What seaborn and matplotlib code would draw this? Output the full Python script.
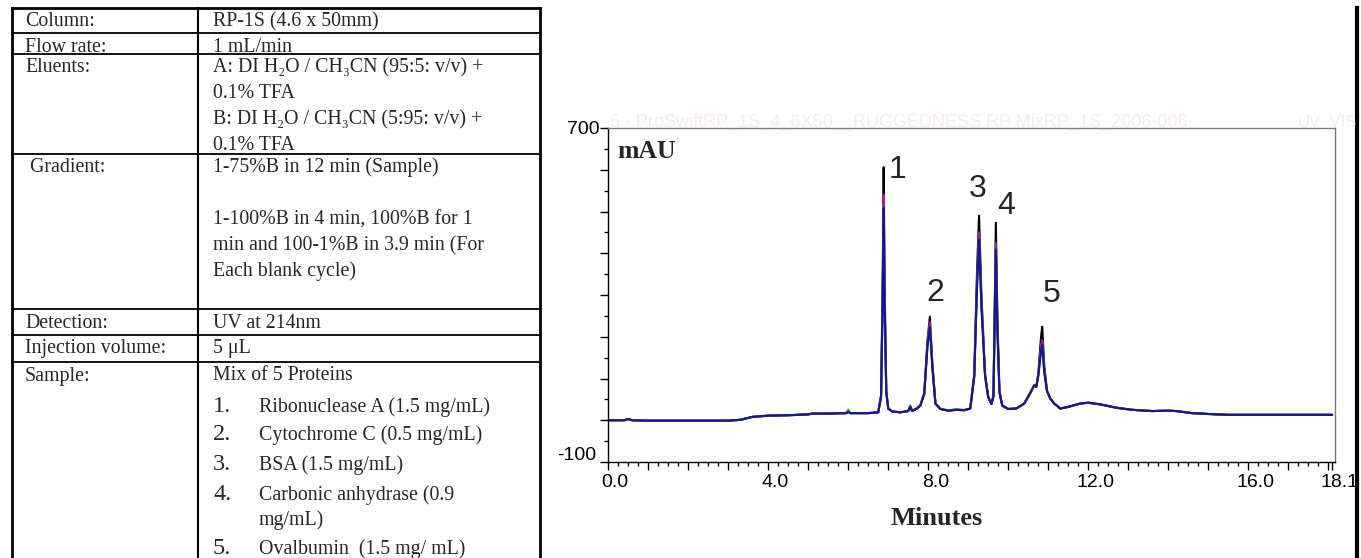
import numpy as np
import pandas as pd
import matplotlib
matplotlib.use("Agg")
import matplotlib.pyplot as plt
import matplotlib.transforms as mtrans
from matplotlib.lines import Line2D
from matplotlib.ticker import FixedLocator, FixedFormatter, MultipleLocator
import seaborn as sns

# ---------------- data ----------------
param_labels = ["Column:", "Flow rate:", "Eluents:", " Gradient:", "Detection:",
                "Injection volume:", "Sample:"]
param_values = [
    ["RP-1S (4.6 x 50mm)"],
    ["1 mL/min"],
    ["A: DI H\u2082O / CH\u2083CN (95:5: v/v) +", "0.1% TFA",
     "B: DI H\u2082O / CH\u2083CN (5:95: v/v) +", "0.1% TFA"],
    ["1-75%B in 12 min (Sample)", "", "1-100%B in 4 min, 100%B for 1",
     "min and 100-1%B in 3.9 min (For", "Each blank cycle)"],
    ["UV at 214nm"],
    ["5 \u03bcL"],
    ["Mix of 5 Proteins"],
]
protein_numbers = ["1.", "2.", "3.", "4.", "5."]
protein_names = [["Ribonuclease A (1.5 mg/mL)"], ["Cytochrome C (0.5 mg/mL)"],
                 ["BSA (1.5 mg/mL)"], ["Carbonic anhydrase (0.9", "mg/mL)"],
                 ["Ovalbumin  (1.5 mg/ mL)"]]

minutes = [0.0, 0.4, 0.5, 0.6, 1.0, 2.0, 3.0, 3.3, 3.6, 4.0, 4.5, 5.0, 5.1, 5.5, 5.95,
           6.0, 6.05, 6.5, 6.75, 6.82, 6.86, 6.885, 6.91, 6.95, 7.0, 7.1, 7.3, 7.5, 7.55,
           7.6, 7.65, 7.7, 7.8, 7.9, 7.98, 8.04, 8.1, 8.18, 8.3, 8.5, 8.7, 8.9, 9.05,
           9.15, 9.22, 9.27, 9.33, 9.42, 9.5, 9.58, 9.63, 9.66, 9.69, 9.73, 9.78, 9.85,
           10.0, 10.2, 10.4, 10.55, 10.65, 10.7, 10.75, 10.82, 10.85, 10.9, 10.97, 11.05,
           11.15, 11.3, 11.5, 11.8, 12.0, 12.3, 12.7, 13.1, 13.6, 14.0, 14.2, 14.6, 15.0,
           15.5, 16.0, 17.0, 18.1]

mau_black = [0, 0, 3, 0, -1, -1, -1, 1, 8, 11, 12, 14, 16, 16, 17,
             20, 17, 17, 19, 60, 330, 606, 320, 70, 28, 21, 19, 22, 32,
             22, 25, 27, 35, 65, 190, 248, 140, 40, 27, 23, 25, 24, 28,
             110, 360, 490, 300, 110, 55, 39, 60, 260, 473, 240, 70, 35,
             27, 28, 40, 65, 84, 80, 110, 200, 224, 130, 70, 52,
             40, 28, 32, 40, 42, 38, 30, 25, 22, 23, 22, 17, 15,
             13, 13, 13, 13]

mau_green = [0, 0, 3, 0, -1, -1, -1, 1, 8, 11, 12, 14, 16, 16, 18,
             26, 17, 17, 19, 58, 290, 520, 280, 68, 28, 21, 19, 22, 36,
             22, 26, 28, 35, 63, 180, 230, 130, 40, 28, 24, 27, 25, 28,
             105, 325, 440, 275, 108, 55, 39, 58, 235, 415, 215, 68, 35,
             27, 28, 40, 65, 84, 80, 106, 170, 186, 118, 70, 52,
             40, 28, 32, 40, 42, 38, 30, 25, 22, 23, 22, 17, 15,
             13, 13, 13, 13]

mau_magenta = [0, 0, 3, 0, -1, -1, -1, 1, 8, 11, 12, 14, 16, 16, 17,
               21, 17, 17, 19, 58, 300, 540, 290, 68, 28, 21, 19, 22, 33,
               22, 25, 27, 35, 64, 182, 235, 133, 40, 27, 23, 25, 24, 28,
               106, 335, 450, 280, 108, 55, 39, 58, 240, 425, 220, 68, 35,
               27, 28, 40, 65, 84, 80, 107, 178, 192, 120, 70, 52,
               40, 28, 32, 40, 42, 38, 30, 25, 22, 23, 22, 17, 15,
               13, 13, 13, 13]

mau_blue = [0, 0, 3, 0, -1, -1, -1, 1, 8, 11, 12, 14, 16, 16, 17,
            20, 17, 17, 19, 57, 280, 508, 270, 67, 28, 21, 19, 22, 32,
            22, 25, 27, 35, 63, 175, 224, 128, 40, 27, 23, 25, 24, 28,
            104, 320, 432, 270, 106, 55, 39, 57, 230, 408, 210, 67, 35,
            27, 28, 40, 65, 84, 80, 105, 165, 180, 115, 70, 52,
            40, 28, 32, 40, 42, 38, 30, 25, 22, 23, 22, 17, 15,
            13, 13, 13, 13]

run_names = ["run A", "run B", "run C", "run D"]
run_colors = ["#000000", "#22c46a", "#a0208c", "#16168e"]
peak_labels = ["1", "2", "3", "4", "5"]
peak_label_minutes = [7.22, 8.17, 9.24, 9.94, 11.09]
peak_label_mau = [599, 305, 554, 513, 302]
x_tick_values = [0.0, 4.0, 8.0, 12.0, 16.0, 18.1]
x_tick_texts = ["0.0", "4.0", "8.0", "12.0", "16.0", "18.1"]
y_tick_values = [-100, 700]
y_tick_texts = ["-100", "700"]

# ---------------- figure ----------------
W, H = 1361, 558
sns.set_style("ticks")
plt.rcParams["font.family"] = ["Liberation Sans", "DejaVu Sans"]
SERIF = ["Liberation Serif", "DejaVu Serif"]

fig = plt.figure(figsize=(W / 100, H / 100), dpi=100)
fig.patch.set_facecolor("white")


def fx(x):
    return x / W


def fy(y):
    return 1 - y / H


def fline(x0, y0, x1, y1, lw):
    fig.add_artist(Line2D([fx(x0), fx(x1)], [fy(y0), fy(y1)], color="black", lw=lw,
                          transform=fig.transFigure, solid_capstyle="projecting"))


# table grid
TL, TD, TR = 12, 198, 540
row_tops = [8, 33, 54, 154, 309, 335, 362]
fline(TL, 8, TR, 8, 2.0)
for y in row_tops[1:]:
    fline(TL, y, TR, y, 1.3)
fline(TL, 8, TL, H + 2, 2.0)
fline(TD, 8, TD, H + 2, 1.5)
fline(TR, 8, TR, H + 2, 2.0)
# outer right border
fline(1357, 8, 1357, H + 2, 3.0)

TS = 14.3
LS = 26
for top, lab, vals in zip(row_tops, param_labels, param_values):
    base = top + 18.5
    fig.text(fx(25), fy(base), lab, family=SERIF, fontsize=TS, va="baseline", ha="left")
    for i, v in enumerate(vals):
        fig.text(fx(213), fy(base + i * LS), v, family=SERIF, fontsize=TS,
                 va="baseline", ha="left")

item_base = [412, 440, 470, 500, 554]
for b, num, names in zip(item_base, protein_numbers, protein_names):
    fig.text(fx(213), fy(b), num, family=SERIF, fontsize=17.5, va="baseline", ha="left")
    for i, nm in enumerate(names):
        fig.text(fx(259), fy(b + i * 25), nm, family=SERIF, fontsize=TS,
                 va="baseline", ha="left")

# faint instrument header
fig.text(fx(610), fy(127), "6 - ProSwiftRP_1S_4_6X50__RUGGEDNESS RP MixRP_1S_2006-006-",
         color="#f4efe3", fontsize=13, va="baseline", ha="left")
fig.text(fx(1298), fy(127), "UV_VIS", color="#f4efe3", fontsize=12, va="baseline", ha="left")

# ---------------- chromatogram ----------------
ax = fig.add_axes([fx(608.3), fy(462), (1335 - 608.3) / W, 334 / H])
df = pd.concat([
    pd.DataFrame({"Minutes": minutes, "mAU": vals, "Run": name})
    for name, vals in zip(run_names, [mau_black, mau_green, mau_magenta, mau_blue])
])
sns.lineplot(data=df, x="Minutes", y="mAU", hue="Run", hue_order=run_names,
             palette=run_colors, estimator=None, errorbar=None, sort=False,
             lw=1.5, legend=False, ax=ax)

ax.set_xlim(0, 18.17)
ax.set_ylim(-100, 700)
for side in ["top", "right"]:
    ax.spines[side].set_color("#7a7a7a")
    ax.spines[side].set_linewidth(1.0)
for side in ["left", "bottom"]:
    ax.spines[side].set_color("black")
    ax.spines[side].set_linewidth(1.0)

major_x = [float(v) for v in range(0, 19)] + [18.1]
ax.xaxis.set_major_locator(FixedLocator(major_x))
ax.xaxis.set_major_formatter(FixedFormatter(
    [x_tick_texts[x_tick_values.index(v)] if v in x_tick_values else "" for v in major_x]))
ax.xaxis.set_minor_locator(MultipleLocator(0.25))
major_y = list(range(-100, 701, 100))
ax.yaxis.set_major_locator(FixedLocator(major_y))
ax.yaxis.set_major_formatter(FixedFormatter(
    [y_tick_texts[y_tick_values.index(v)] if v in y_tick_values else "" for v in major_y]))
ax.yaxis.set_minor_locator(MultipleLocator(50))
ax.tick_params(axis="both", which="major", direction="out", length=5.5, width=1,
               color="black", labelsize=14, labelcolor="black")
ax.tick_params(axis="both", which="minor", direction="out", length=2.7, width=1,
               color="black")
ax.tick_params(axis="x", which="major", pad=3)
ax.tick_params(axis="y", which="major", pad=0.5)

offset = mtrans.ScaledTranslation(7 / 100, 0, fig.dpi_scale_trans)
for lab in ax.get_xticklabels():
    lab.set_transform(lab.get_transform() + offset)
ylabs = ax.get_yticklabels()
ylabs[0].set_transform(ylabs[0].get_transform()
                       + mtrans.ScaledTranslation(-4 / 100, 8 / 100, fig.dpi_scale_trans))

ax.set_xlabel("Minutes", family=SERIF, fontweight="bold", fontsize=19, labelpad=8)
ax.xaxis.set_label_coords((937 - 608.3) / (1335 - 608.3), -0.135)
ax.set_ylabel("")
ax.text(0.012, 0.965, "mAU", transform=ax.transAxes, family=SERIF, fontweight="bold",
        fontsize=18.5, ha="left", va="top")

for t, v, s in zip(peak_label_minutes, peak_label_mau, peak_labels):
    ax.text(t, v, s, fontsize=23, ha="center", va="center")

fig.savefig("out.png", dpi=100, facecolor="white")
